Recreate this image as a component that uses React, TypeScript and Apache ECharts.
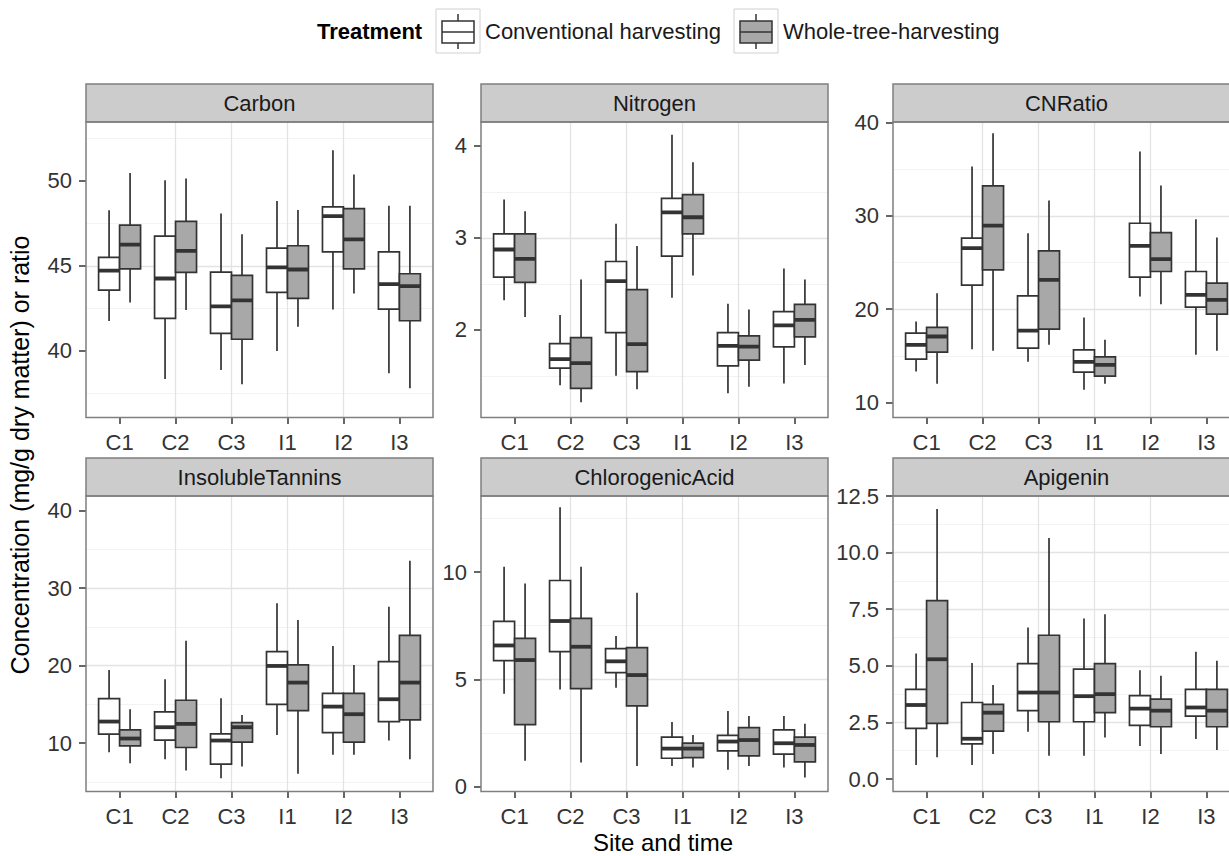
import React, { useEffect, useRef } from 'react';
import * as echarts from 'echarts';

// ---------------- data ----------------
const CATEGORIES = ['C1', 'C2', 'C3', 'I1', 'I2', 'I3'];
const TREATMENTS = ['Conventional harvesting', 'Whole-tree-harvesting'];
const PANELS = ['Carbon', 'Nitrogen', 'CNRatio', 'InsolubleTannins', 'ChlorogenicAcid', 'Apigenin'];

// each row: [lower whisker, Q1, median, Q3, upper whisker], one row per category
const carbonConv = [
  [41.75, 43.57, 44.71, 45.49, 48.27],
  [38.33, 41.9, 44.25, 46.75, 50.04],
  [38.86, 41.02, 42.61, 44.63, 48.08],
  [39.98, 43.43, 44.9, 46.04, 48.82],
  [42.43, 45.82, 47.92, 48.47, 51.8],
  [38.67, 42.45, 43.92, 45.82, 48.53],
];
const carbonWhole = [
  [42.84, 44.82, 46.24, 47.39, 50.47],
  [42.39, 44.61, 45.88, 47.61, 50.14],
  [38.02, 40.67, 42.96, 44.43, 46.86],
  [41.41, 43.08, 44.78, 46.18, 48.29],
  [43.37, 44.82, 46.55, 48.37, 50.37],
  [37.78, 41.76, 43.8, 44.53, 48.53],
];
const nitrogenConv = [
  [2.32, 2.573, 2.873, 3.043, 3.416],
  [1.398, 1.582, 1.68, 1.85, 2.161],
  [1.499, 1.969, 2.53, 2.743, 3.152],
  [2.349, 2.801, 3.278, 3.43, 4.121],
  [1.311, 1.608, 1.825, 1.969, 2.284],
  [1.416, 1.814, 2.049, 2.197, 2.667],
];
const nitrogenWhole = [
  [2.139, 2.515, 2.772, 3.043, 3.289],
  [1.213, 1.362, 1.637, 1.915, 2.548],
  [1.354, 1.546, 1.843, 2.436, 2.91],
  [2.591, 3.043, 3.224, 3.47, 3.821],
  [1.38, 1.669, 1.817, 1.933, 2.222],
  [1.618, 1.922, 2.107, 2.277, 2.548],
];
const cnConv = [
  [13.32, 14.64, 16.18, 17.43, 18.68],
  [15.71, 22.57, 26.54, 27.61, 35.29],
  [14.36, 15.82, 17.71, 21.43, 28.14],
  [11.36, 13.25, 14.36, 15.64, 19.11],
  [21.36, 23.43, 26.79, 29.21, 36.89],
  [15.11, 20.21, 21.54, 24.04, 29.64],
];
const cnWhole = [
  [12.0, 15.39, 17.07, 18.04, 21.71],
  [15.54, 24.21, 28.96, 33.21, 38.86],
  [16.18, 17.86, 23.14, 26.25, 31.64],
  [12.0, 12.82, 14.04, 14.89, 16.71],
  [20.54, 24.04, 25.36, 28.21, 33.25],
  [15.54, 19.46, 21.0, 22.79, 27.68],
];
const tanninConv = [
  [8.83, 11.15, 12.78, 15.75, 19.44],
  [7.92, 10.37, 12.05, 14.03, 18.24],
  [5.47, 7.28, 10.33, 11.19, 15.79],
  [11.06, 15.01, 19.96, 21.8, 28.04],
  [8.48, 11.36, 14.71, 16.43, 22.54],
  [10.33, 12.78, 15.66, 20.52, 27.61],
];
const tanninWhole = [
  [7.41, 9.64, 10.59, 11.71, 14.37],
  [6.46, 9.43, 12.48, 15.53, 23.22],
  [6.98, 10.12, 12.05, 12.65, 13.64],
  [6.03, 14.2, 17.81, 20.09, 25.89],
  [8.48, 10.12, 13.73, 16.43, 20.09],
  [7.92, 13.0, 17.81, 23.91, 33.54],
];
const chlorogenicConv = [
  [4.33, 5.87, 6.58, 7.7, 10.25],
  [4.53, 6.29, 7.72, 9.61, 13.03],
  [4.61, 5.31, 5.84, 6.43, 7.02],
  [0.96, 1.32, 1.77, 2.31, 3.01],
  [0.78, 1.66, 2.1, 2.39, 3.52],
  [0.89, 1.51, 2.02, 2.64, 3.29],
];
const chlorogenicWhole = [
  [1.2, 2.89, 5.9, 6.91, 9.47],
  [1.12, 4.57, 6.52, 7.84, 10.25],
  [0.96, 3.76, 5.2, 6.48, 9.04],
  [0.89, 1.35, 1.77, 2.03, 2.41],
  [0.96, 1.43, 2.17, 2.75, 3.29],
  [0.42, 1.15, 1.94, 2.31, 2.93],
];
const apigeninConv = [
  [0.62, 2.24, 3.27, 3.96, 5.54],
  [0.62, 1.55, 1.78, 3.38, 5.13],
  [2.09, 3.02, 3.82, 5.1, 6.69],
  [1.03, 2.53, 3.66, 4.85, 7.09],
  [1.46, 2.37, 3.11, 3.68, 4.81],
  [1.77, 2.78, 3.16, 3.96, 5.62],
];
const apigeninWhole = [
  [0.96, 2.46, 5.29, 7.88, 11.93],
  [1.11, 2.12, 2.93, 3.3, 4.15],
  [1.03, 2.53, 3.82, 6.35, 10.64],
  [1.84, 2.93, 3.75, 5.1, 7.28],
  [1.11, 2.31, 3.02, 3.53, 4.56],
  [1.28, 2.31, 3.02, 3.96, 5.22],
];

// tick labels per panel
const carbonTicks = [40, 45, 50];
const nitrogenTicks = [2, 3, 4];
const cnTicks = [10, 20, 30, 40];
const tanninTicks = [10, 20, 30, 40];
const chlorogenicTicks = [0, 5, 10];
const apigeninTicks = [0, 2.5, 5, 7.5, 10, 12.5];

// axis limits per panel
const carbonRange = [36.06, 53.47];
const nitrogenRange = [1.046, 4.26];
const cnRange = [8.39, 40.06];
const tanninRange = [3.75, 41.9];
const chlorogenicRange = [-0.23, 13.55];
const apigeninRange = [-0.55, 12.5];

const PANEL_STATS = [
  [carbonConv, carbonWhole],
  [nitrogenConv, nitrogenWhole],
  [cnConv, cnWhole],
  [tanninConv, tanninWhole],
  [chlorogenicConv, chlorogenicWhole],
  [apigeninConv, apigeninWhole],
];
const PANEL_TICKS = [carbonTicks, nitrogenTicks, cnTicks, tanninTicks, chlorogenicTicks, apigeninTicks];
const PANEL_RANGES = [carbonRange, nitrogenRange, cnRange, tanninRange, chlorogenicRange, apigeninRange];
const PANEL_DECIMALS = [0, 0, 0, 0, 0, 1];

// ---------------- styles / layout ----------------
const FONT = "'Liberation Sans', Arial, Helvetica, sans-serif";
const COL_LEFT = [86, 481, 893];
const ROW_TOP = [122, 496];
const PANEL_W = 347;
const PANEL_H = 295.5;
const STRIP_H = 38;
const BOX_W = 0.375;
const FILLS = ['#FFFFFF', '#A8A8A8'];
const LINE = '#333333';
const BORDER = '#7F7F7F';
const MAJOR = '#E3E3E3';
const MINOR = '#F3F3F3';
const TICK_TEXT = '#333333';

function makeRender(fill: string) {
  return (params: any, api: any) => {
    const x = api.value(0);
    const pLo = api.coord([x, api.value(1)]);
    const pQ1 = api.coord([x, api.value(2)]);
    const pMed = api.coord([x, api.value(3)]);
    const pQ3 = api.coord([x, api.value(4)]);
    const pHi = api.coord([x, api.value(5)]);
    const w = api.size([BOX_W, 0])[0];
    const cx = pMed[0];
    return {
      type: 'group',
      children: [
        { type: 'line', shape: { x1: cx, y1: pHi[1], x2: cx, y2: pQ3[1] }, style: { stroke: LINE, lineWidth: 1.7 } },
        { type: 'line', shape: { x1: cx, y1: pQ1[1], x2: cx, y2: pLo[1] }, style: { stroke: LINE, lineWidth: 1.7 } },
        {
          type: 'rect',
          shape: { x: cx - w / 2, y: pQ3[1], width: w, height: pQ1[1] - pQ3[1] },
          style: { fill, stroke: LINE, lineWidth: 1.7 },
        },
        {
          type: 'line',
          shape: { x1: cx - w / 2, y1: pMed[1], x2: cx + w / 2, y2: pMed[1] },
          style: { stroke: LINE, lineWidth: 3.8 },
        },
      ],
    };
  };
}

function buildOption() {
  const grid: any[] = [];
  const xAxis: any[] = [];
  const yAxis: any[] = [];
  const series: any[] = [];
  const graphic: any[] = [];
  const catPositions = CATEGORIES.map((_, k) => k + 1);

  PANELS.forEach((name, i) => {
    const col = i % 3;
    const row = Math.floor(i / 3);
    const left = COL_LEFT[col];
    const top = ROW_TOP[row];
    const ticks = PANEL_TICKS[i];
    const range = PANEL_RANGES[i];
    const step = ticks[1] - ticks[0];
    const dec = PANEL_DECIMALS[i];

    grid.push({ left, top, width: PANEL_W, height: PANEL_H, show: false, outerBoundsMode: 'none', containLabel: false });

    xAxis.push({
      type: 'value',
      gridIndex: i,
      position: 'bottom',
      min: 0.4,
      max: CATEGORIES.length + 0.6,
      minInterval: 1,
      maxInterval: 1,
      axisLine: { show: false, onZero: false },
      axisTick: { show: true, length: 6.5, customValues: catPositions, lineStyle: { color: LINE, width: 1.5 } },
      axisLabel: {
        customValues: catPositions,
        margin: 14,
        fontSize: 22,
        fontFamily: FONT,
        color: TICK_TEXT,
        formatter: (v: number) => {
          const r = Math.round(v);
          if (Math.abs(v - r) > 1e-6) return '';
          return CATEGORIES[r - 1] ?? '';
        },
      },
      splitLine: { show: true, showMinLine: false, showMaxLine: false, lineStyle: { color: MAJOR, width: 1.3 } },
      minorSplitLine: { show: false },
    });

    yAxis.push({
      type: 'value',
      gridIndex: i,
      position: 'left',
      min: range[0],
      max: range[1],
      minInterval: step,
      maxInterval: step,
      axisLine: { show: false, onZero: false },
      axisTick: { show: true, length: 7, customValues: ticks, lineStyle: { color: LINE, width: 1.5 } },
      axisLabel: {
        customValues: ticks,
        margin: 14,
        fontSize: 22,
        fontFamily: FONT,
        color: TICK_TEXT,
        formatter: (v: number) => {
          const hit = ticks.find((t) => Math.abs(t - v) < 1e-6);
          return hit === undefined ? '' : hit.toFixed(dec);
        },
      },
      splitLine: { show: true, showMinLine: false, showMaxLine: false, lineStyle: { color: MAJOR, width: 1.3 } },
      minorTick: { show: false, splitNumber: 2 },
      minorSplitLine: { show: true, lineStyle: { color: MINOR, width: 1 } },
    });

    PANEL_STATS[i].forEach((stats, t) => {
      const dodge = (t === 0 ? -1 : 1) * (BOX_W / 2);
      series.push({
        type: 'custom',
        name: TREATMENTS[t],
        xAxisIndex: i,
        yAxisIndex: i,
        renderItem: makeRender(FILLS[t]),
        encode: { x: 0, y: [1, 2, 3, 4, 5] },
        data: stats.map((s, k) => [k + 1 + dodge, ...s]),
        clip: true,
        z: 2,
      });
    });

    // strip
    graphic.push({
      type: 'rect',
      shape: { x: left, y: top - STRIP_H, width: PANEL_W, height: STRIP_H },
      style: { fill: '#CCCCCC', stroke: BORDER, lineWidth: 1.5 },
      z: 90,
    });
    graphic.push({
      type: 'text',
      x: left + PANEL_W / 2,
      y: top - STRIP_H / 2,
      style: {
        text: name,
        x: 0,
        y: 0,
        fill: '#1A1A1A',
        font: `22px ${FONT}`,
        textAlign: 'center',
        textVerticalAlign: 'middle',
        align: 'center',
        verticalAlign: 'middle',
      },
      z: 95,
    });
    // panel frame
    graphic.push({
      type: 'rect',
      shape: { x: left, y: top, width: PANEL_W, height: PANEL_H },
      style: { fill: 'none', stroke: BORDER, lineWidth: 1.5 },
      z: 90,
      silent: true,
    });
  });

  // axis titles
  graphic.push({
    type: 'text',
    x: 663,
    y: 842,
    style: {
      text: 'Site and time',
      x: 0,
      y: 0,
      fill: '#000',
      font: `24px ${FONT}`,
      textAlign: 'center',
      textVerticalAlign: 'middle',
      align: 'center',
      verticalAlign: 'middle',
    },
  });
  graphic.push({
    type: 'text',
    x: 20,
    y: 455,
    rotation: Math.PI / 2,
    style: {
      text: 'Concentration (mg/g dry matter) or ratio',
      x: 0,
      y: 0,
      fill: '#000',
      font: `25px ${FONT}`,
      textAlign: 'center',
      textVerticalAlign: 'middle',
      align: 'center',
      verticalAlign: 'middle',
    },
  });

  // legend
  const legendY = 31;
  graphic.push({
    type: 'text',
    x: 317,
    y: legendY,
    style: {
      text: 'Treatment',
      x: 0,
      y: 0,
      fill: '#000',
      font: `bold 22px ${FONT}`,
      textAlign: 'left',
      textVerticalAlign: 'middle',
      align: 'left',
      verticalAlign: 'middle',
    },
  });
  const keyLefts = [436, 734];
  const textLefts = [485, 783];
  TREATMENTS.forEach((label, t) => {
    const kx = keyLefts[t];
    const cx = kx + 22;
    graphic.push({
      type: 'rect',
      shape: { x: kx, y: legendY - 22, width: 44, height: 44 },
      style: { fill: '#FFFFFF', stroke: '#D0D0D0', lineWidth: 1 },
    });
    graphic.push({
      type: 'line',
      shape: { x1: cx, y1: legendY - 17, x2: cx, y2: legendY + 18 },
      style: { stroke: LINE, lineWidth: 1.5 },
    });
    graphic.push({
      type: 'rect',
      shape: { x: cx - 16, y: legendY - 10, width: 32, height: 22 },
      style: { fill: FILLS[t], stroke: LINE, lineWidth: 1.5 },
    });
    graphic.push({
      type: 'line',
      shape: { x1: cx - 16, y1: legendY + 1, x2: cx + 16, y2: legendY + 1 },
      style: { stroke: LINE, lineWidth: 1.5 },
    });
    graphic.push({
      type: 'text',
      x: textLefts[t],
      y: legendY,
      style: {
        text: label,
        x: 0,
        y: 0,
        fill: '#1A1A1A',
        font: `22px ${FONT}`,
        textAlign: 'left',
        textVerticalAlign: 'middle',
        align: 'left',
        verticalAlign: 'middle',
      },
    });
  });

  return {
    animation: false,
    backgroundColor: '#FFFFFF',
    textStyle: { fontFamily: FONT },
    grid,
    xAxis,
    yAxis,
    series,
    graphic,
  };
}

export default function App() {
  const ref = useRef<HTMLDivElement>(null);
  useEffect(() => {
    if (!ref.current) return;
    const chart = echarts.init(ref.current, null, { renderer: 'svg' });
    chart.setOption(buildOption() as any);
    return () => {
      chart.dispose();
    };
  }, []);
  return (
    <div
      ref={ref}
      style={{ position: 'fixed', left: 0, top: 0, width: 1229, height: 856, background: '#FFFFFF' }}
    />
  );
}
